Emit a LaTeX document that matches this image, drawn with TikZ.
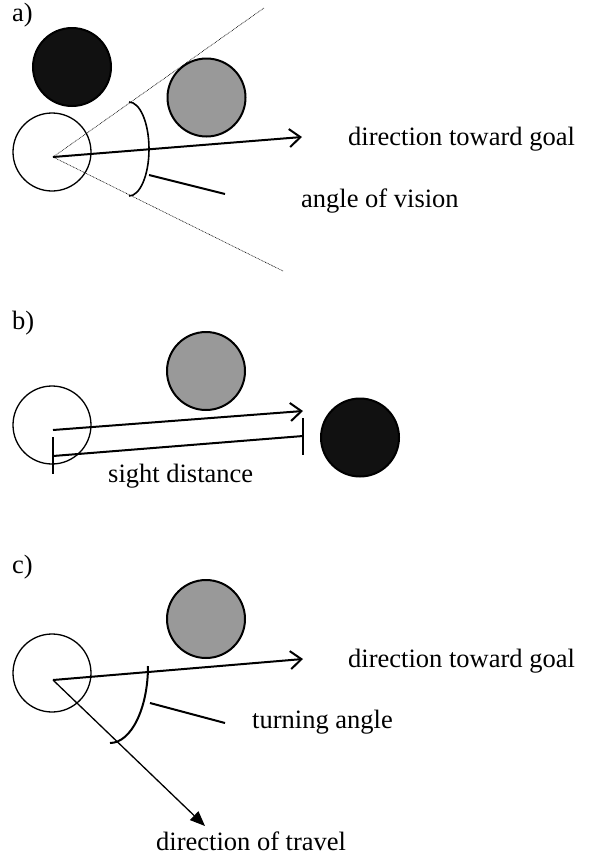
\documentclass[tikz,border=0pt]{standalone}
\usepackage{fontspec}
\setmainfont{Liberation Serif}
\usetikzlibrary{arrows.meta}
\definecolor{objgray}{HTML}{999999}
\definecolor{objblack}{HTML}{111111}
\begin{document}
\begin{tikzpicture}[x=1pt,y=-1pt,
  agent/.style={circle, draw, line width=1.3pt, minimum size=78pt, inner sep=0pt},
  grayobj/.style={agent, fill=objgray, line width=2pt},
  blackobj/.style={agent, fill=objblack, line width=2pt},
  lbl/.style={anchor=base west, inner sep=0pt, font=\fontsize{26.5}{30}\selectfont},
  dirarrow/.style={line width=2pt, -{Straight Barb[length=11pt,width=18pt,line width=2pt]}},
  travelarrow/.style={line width=1.3pt, -{Triangle[length=15pt,width=12pt]}},
  pointer/.style={line width=2pt},
  anglearc/.style={line width=1.6pt},
  vision/.style={line width=0.6pt, dash pattern=on 0.8pt off 0.8pt}]
\useasboundingbox (0,0) rectangle (593,855);

% ---------- a)
\node[lbl] (la) at (12,21) {a)};
\node[blackobj] (a-black) at (72,67) {};
\node[grayobj] (a-gray) at (206.5,97.5) {};
\node[agent] (a-agent) at (52,152) {};
\coordinate (a-o) at (53,157);
\coordinate (a-vt) at (264,8);
\coordinate (a-vb) at (283,271);
\coordinate (a-goal) at (302,137);
\coordinate (a-arctop) at (129,102);
\coordinate (a-p1) at (149,175);
\coordinate (a-p2) at (225,194);
\draw[vision] (a-o) -- (a-vt);
\draw[vision] (a-o) -- (a-vb);
\draw[dirarrow] (a-o) -- (a-goal);
\draw[anglearc] (a-arctop) arc[start angle=270, end angle=450, x radius=20, y radius=47];
\draw[pointer] (a-p1) -- (a-p2);
\node[lbl] (a-goal-t) at (348,145) {direction toward goal};
\node[lbl] (a-vis-t) at (301,207) {angle of vision};

% ---------- b)
\node[lbl] (lb) at (12,329) {b)};
\node[grayobj] (b-gray) at (206,371) {};
\node[agent] (b-agent) at (52,425) {};
\node[blackobj] (b-black) at (360,437.5) {};
\coordinate (b-o) at (53,430);
\coordinate (b-goal) at (303,411);
\coordinate (b-s1) at (53,456);
\coordinate (b-s2) at (303,436);
\coordinate (b-t1a) at (53,437);
\coordinate (b-t1b) at (53,474);
\coordinate (b-t2a) at (303,418);
\coordinate (b-t2b) at (303,455);
\draw[dirarrow] (b-o) -- (b-goal);
\draw[pointer] (b-s1) -- (b-s2);
\draw[pointer] (b-t1a) -- (b-t1b);
\draw[pointer] (b-t2a) -- (b-t2b);
\node[lbl] (b-sight-t) at (108,482) {sight distance};

% ---------- c)
\node[lbl] (lc) at (12,573) {c)};
\node[grayobj] (c-gray) at (206,619) {};
\node[agent] (c-agent) at (52,673) {};
\coordinate (c-o) at (53,680);
\coordinate (c-goal) at (303,659);
\coordinate (c-travel) at (205,826);
\coordinate (c-arctop) at (148,666);
\coordinate (c-p1) at (150,703);
\coordinate (c-p2) at (225,723);
\draw[dirarrow] (c-o) -- (c-goal);
\draw[travelarrow] (c-o) -- (c-travel);
\draw[pointer] (c-arctop) arc[start angle=0, end angle=90, x radius=38, y radius=77];
\draw[pointer] (c-p1) -- (c-p2);
\node[lbl] (c-goal-t) at (348,667) {direction toward goal};
\node[lbl] (c-turn-t) at (252,728) {turning angle};
\node[lbl] (c-travel-t) at (156,850) {direction of travel};
\end{tikzpicture}
\end{document}
